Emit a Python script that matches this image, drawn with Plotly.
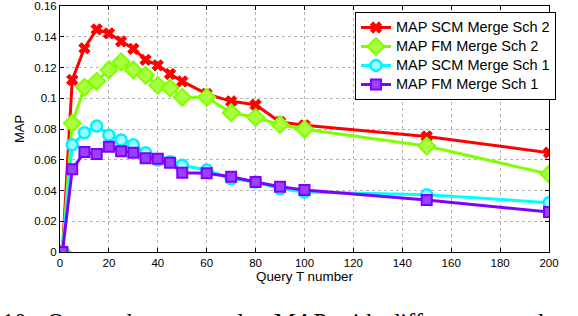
import plotly.graph_objects as go

x_vals = [1, 5, 10, 15, 20, 25, 30, 35, 40, 45, 50, 60, 70, 80, 90, 100, 150, 200]
map_scm_sch2 = [0, 0.112, 0.1325, 0.1448, 0.1422, 0.137, 0.1322, 0.125, 0.1214, 0.1158, 0.111,
                0.1028, 0.098, 0.0958, 0.0846, 0.0824, 0.0752, 0.0646]
map_fm_sch2 = [0, 0.0837, 0.1071, 0.111, 0.1184, 0.1236, 0.1184, 0.1149, 0.1084, 0.1067, 0.1006,
               0.1006, 0.0906, 0.0876, 0.0828, 0.0798, 0.0689, 0.0507]
map_scm_sch1 = [0, 0.0698, 0.0776, 0.082, 0.0759, 0.0728, 0.0698, 0.0646, 0.0598, 0.0587, 0.0564,
                0.0533, 0.0477, 0.0455, 0.0412, 0.039, 0.0373, 0.0321]
map_fm_sch1 = [0, 0.0538, 0.065, 0.0637, 0.0685, 0.0655, 0.0646, 0.061, 0.0607, 0.0581, 0.0516,
               0.0512, 0.049, 0.0455, 0.0425, 0.0403, 0.0338, 0.026]

series_names = ["MAP SCM Merge Sch 2", "MAP FM Merge Sch 2", "MAP SCM Merge Sch 1", "MAP FM Merge Sch 1"]
x_ticks = [0, 20, 40, 60, 80, 100, 120, 140, 160, 180, 200]
y_ticks = [0, 0.02, 0.04, 0.06, 0.08, 0.1, 0.12, 0.14, 0.16]
y_tick_labels = ["0", "0.02", "0.04", "0.06", "0.08", "0.1", "0.12", "0.14", "0.16"]
caption_words = ["10:", "Query", "by", "example", "MAP", "with", "different", "numb"]
caption_x = [0, 45, 125, 170, 272, 333, 386, 493]


def legend_label(s):
    return '<span style="font-size:14.5px">' + s + '</span>'


fig = go.Figure()

fig.add_trace(go.Scatter(
    x=x_vals, y=map_scm_sch2, name=legend_label(series_names[0]), mode="lines+markers",
    line=dict(color="#ff0000", width=3),
    marker=dict(symbol="x", size=10, color="#ff0000", line=dict(color="#ff0000", width=1))))
fig.add_trace(go.Scatter(
    x=x_vals, y=map_fm_sch2, name=legend_label(series_names[1]), mode="lines+markers",
    line=dict(color="#80ff00", width=3),
    marker=dict(symbol="diamond", size=13, color="#a8ff40", line=dict(color="#80ff00", width=2))))
fig.add_trace(go.Scatter(
    x=x_vals, y=map_scm_sch1, name=legend_label(series_names[2]), mode="lines+markers",
    line=dict(color="#00ffff", width=3),
    marker=dict(symbol="circle", size=11, color="#9ffcff", line=dict(color="#00f0ff", width=2.5))))
fig.add_trace(go.Scatter(
    x=x_vals, y=map_fm_sch1, name=legend_label(series_names[3]), mode="lines+markers",
    line=dict(color="#7f00ff", width=3),
    marker=dict(symbol="square", size=10, color="#9a40ff", line=dict(color="#7f00ff", width=2))))

plot_left, plot_right, plot_top, plot_bottom = 60, 549, 6, 252
pw = plot_right - plot_left
ph = plot_bottom - plot_top

for w, px in zip(caption_words, caption_x):
    fig.add_annotation(
        text=w, xref="paper", yref="paper",
        x=(px - plot_left) / pw, y=(plot_bottom - 322.5) / ph,
        xanchor="left", yanchor="middle", showarrow=False,
        font=dict(family="Liberation Serif", size=24.5, color="black"))

axis_common = dict(
    showline=True, linecolor="black", linewidth=1, mirror="ticks",
    ticks="inside", ticklen=4, tickcolor="black",
    showgrid=True, gridcolor="#b5b5b5", griddash="dot", gridwidth=1,
    zeroline=False, automargin=False,
    tickfont=dict(family="Liberation Sans", size=11.5, color="black"),
)

fig.update_xaxes(range=[0, 200], tickmode="array", tickvals=x_ticks,
                 title=dict(text="Query T number", font=dict(family="Liberation Sans", size=13.4, color="black"), standoff=2),
                 **axis_common)
fig.update_yaxes(range=[0, 0.16001], tickmode="array", tickvals=y_ticks, ticktext=y_tick_labels,
                 title=dict(text="MAP", font=dict(family="Liberation Sans", size=13, color="black"), standoff=6),
                 **axis_common)

fig.update_layout(
    width=578, height=316,
    margin=dict(l=plot_left, r=578 - plot_right, t=plot_top, b=316 - plot_bottom, autoexpand=False),
    paper_bgcolor="white", plot_bgcolor="white",
    font=dict(family="Liberation Sans", size=13, color="black"),
    legend=dict(x=(355 - plot_left) / pw, y=(plot_bottom - 12) / ph, xanchor="left", yanchor="top",
                bordercolor="black", borderwidth=1, bgcolor="white",
                font=dict(family="Liberation Sans", size=10.5, color="black"),
                tracegroupgap=0, itemwidth=30),
    showlegend=True,
)

fig.write_html("out.html", config={"displayModeBar": False},
               post_script="document.body.style.margin='0';document.body.style.padding='0';")
